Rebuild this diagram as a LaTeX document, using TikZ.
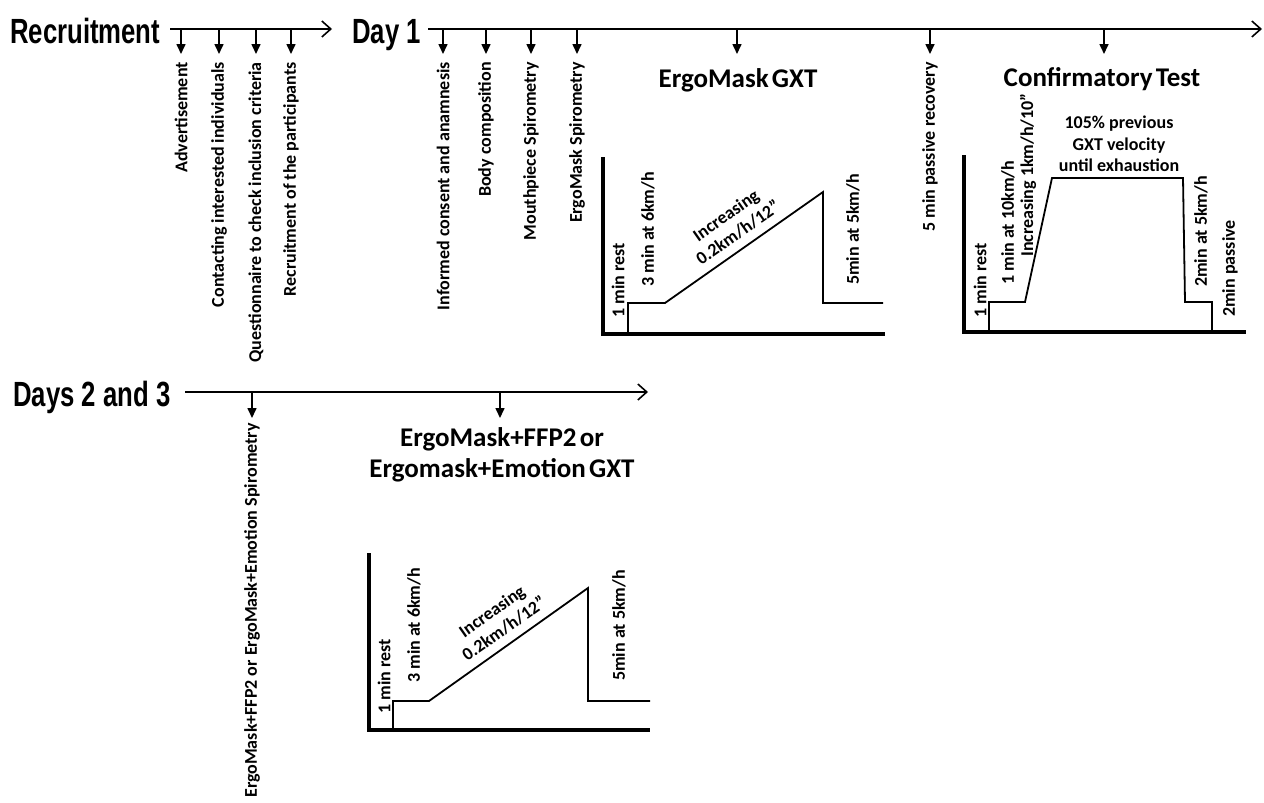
\documentclass[tikz,border=0pt]{standalone}
\usepackage{fontspec}
\setmainfont{Carlito}
\newfontfamily\titlef{Liberation Sans}[FakeStretch=0.735]
\usetikzlibrary{arrows.meta}
\tikzset{
  ttl/.style={font=\titlef\bfseries\fontsize{35}{40}\selectfont, inner sep=0pt},
  tl/.style={line width=1.6pt},
  mainarrow/.style={tl, -{Straight Barb[length=9pt,width=16pt]}},
  tickarrow/.style={tl, -{Triangle[length=10pt,width=9pt]}},
  lab/.style={font=\bfseries\fontsize{18}{21.5}\selectfont, rotate=90, inner sep=0pt},
  toplab/.style={lab, anchor=east},
  botlab/.style={lab, anchor=west},
  head/.style={font=\bfseries\fontsize{27}{32}\selectfont, inner sep=0pt, anchor=base},
  slopelab/.style={font=\bfseries\fontsize{18}{21}\selectfont, inner sep=0pt, align=center, rotate=35},
  axis/.style={line width=3.6pt, line join=miter},
  prof/.style={line width=1.8pt, line join=miter},
}
\newcommand{\tsp}{\hspace{0.12em}}
\begin{document}
\begin{tikzpicture}[x=1pt,y=-1pt]
\useasboundingbox (0,0) rectangle (1264,803);
% ---------- Recruitment ----------
\node[ttl, anchor=base west] (rec) at (10,43) {Recruitment};
\coordinate (recS) at (170,29);
\coordinate (recE) at (332,29);
\draw[mainarrow] (recS) -- (recE);
\foreach \n/\x/\t in {r1/181/Advertisement, r2/219/Contacting interested individuals, r3/256/Questionnaire to check inclusion criteria, r4/291/Recruitment of the participants}{
  \coordinate (\n a) at (\x,29);
  \coordinate (\n b) at (\x,54);
  \draw[tickarrow] (\n a) -- (\n b);
  \node[toplab] (\n l) at (\x,62) {\t};
}
% ---------- Day 1 ----------
\node[ttl, anchor=base west] (day1) at (352,43) {Day 1};
\coordinate (d1S) at (428,29);
\coordinate (d1E) at (1262,29);
\draw[mainarrow] (d1S) -- (d1E);
\foreach \n/\x/\t in {a1/443/Informed consent and anamnesis, a2/486/Body composition, a3/531/Mouthpiece Spirometry, a4/577/ErgoMask Spirometry, a6/930/5 min passive recovery}{
  \coordinate (\n a) at (\x,29);
  \coordinate (\n b) at (\x,54);
  \draw[tickarrow] (\n a) -- (\n b);
  \node[toplab] (\n l) at (\x,62) {\t};
}
\foreach \n/\x in {a5/737, a7/1104}{
  \coordinate (\n a) at (\x,29);
  \coordinate (\n b) at (\x,54);
  \draw[tickarrow] (\n a) -- (\n b);
}
\node[head] (gxt) at (738,87) {ErgoMask\tsp GXT};
\node[head] (conf) at (1102,86) {Confirmatory\tsp Test};
% graph 1
\draw[axis] (603,157) -- (603,334) -- (885,334);
\draw[prof] (628,334) -- (628,303) -- (665,303) -- (823,192) -- (823,303) -- (883,303);
\node[botlab] (g1a) at (618,318) {1 min rest};
\node[botlab] (g1b) at (648,287) {3 min at 6km/h};
\node[slopelab] (g1c) at (732,224) {Increasing\\0.2km/h/12”};
\node[botlab] (g1d) at (853,285) {5min at 5km/h};
% graph 2
\draw[axis] (964,155) -- (964,332) -- (1246,332);
\draw[prof] (989,332) -- (989,302) -- (1025,302) -- (1052,178) -- (1183,178) -- (1185,302) -- (1212,302) -- (1212,332);
\node[botlab] (g2a) at (980,318) {1 min rest};
\node[botlab] (g2b) at (1008,285) {1 min at 10km/h};
\node[botlab] (g2c) at (1028,257) {Increasing 1km/h/10”};
\node[font=\bfseries\fontsize{18}{21.5}\selectfont, align=center, inner sep=0pt] (g2d) at (1119,144) {105\% previous\\GXT velocity\\until exhaustion};
\node[botlab] (g2e) at (1201,287) {2min at 5km/h};
\node[botlab] (g2f) at (1230,317) {2min passive};
% ---------- Days 2 and 3 ----------
\node[ttl, anchor=base west] (day23) at (13,406) {Days 2 and 3};
\coordinate (d2S) at (185,392);
\coordinate (d2E) at (648,392);
\draw[mainarrow] (d2S) -- (d2E);
\coordinate (b1a) at (252,392);
\coordinate (b1b) at (252,418);
\draw[tickarrow] (b1a) -- (b1b);
\node[toplab] (b1l) at (252,423) {ErgoMask+FFP2 or ErgoMask+Emotion Spirometry};
\coordinate (b2a) at (500,392);
\coordinate (b2b) at (500,418);
\draw[tickarrow] (b2a) -- (b2b);
\node[head] (ffp) at (502,446) {ErgoMask+FFP2\tsp or};
\node[head] (emo) at (502,477) {Ergomask+Emotion\tsp GXT};
% graph 3
\draw[axis] (369,553) -- (369,730) -- (650,730);
\draw[prof] (393,730) -- (393,701) -- (429,701) -- (588,588) -- (588,701) -- (650,701);
\node[botlab] (g3a) at (384,714) {1 min rest};
\node[botlab] (g3b) at (414,683) {3 min at 6km/h};
\node[slopelab] (g3c) at (498,620) {Increasing\\0.2km/h/12”};
\node[botlab] (g3d) at (619,681) {5min at 5km/h};
\end{tikzpicture}
\end{document}
